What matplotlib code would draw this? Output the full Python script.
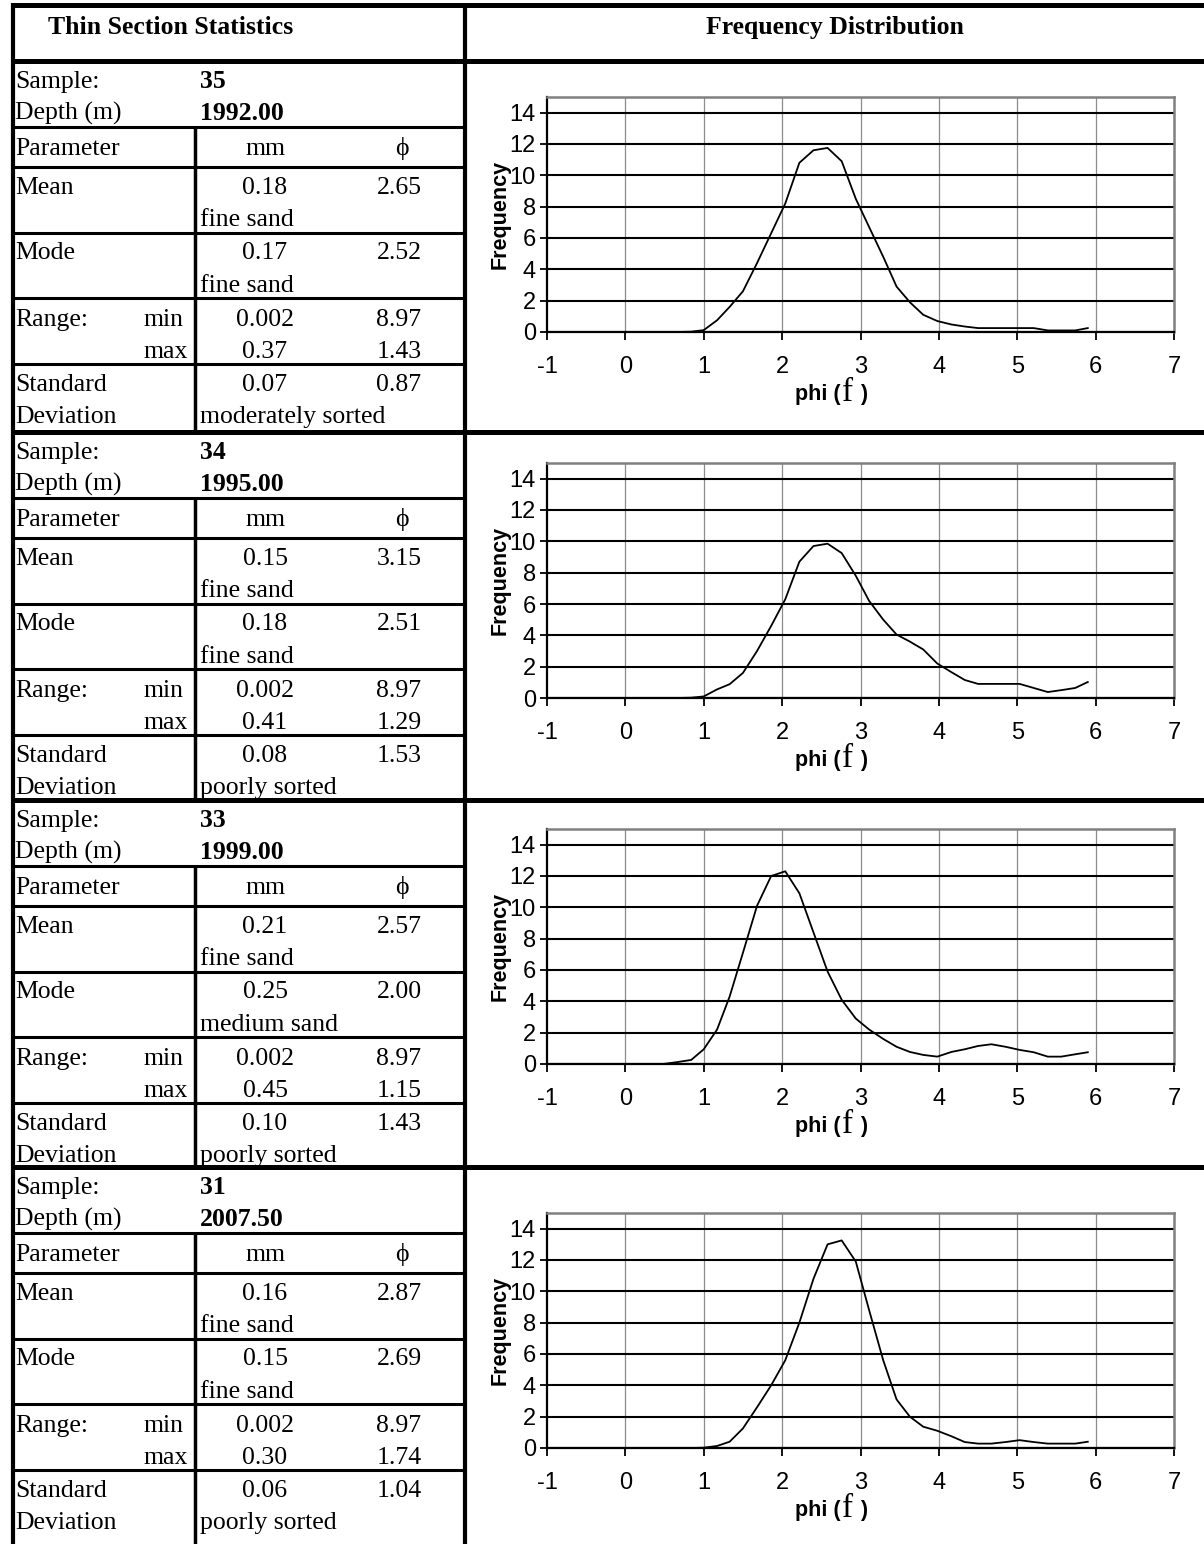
import matplotlib
matplotlib.use("Agg")
import matplotlib.pyplot as plt
from matplotlib.lines import Line2D

plt.rcParams["axes.unicode_minus"] = False

# phi class midpoints shared by all samples
phi = [0.48, 0.66, 0.84, 1.00, 1.17, 1.33, 1.50, 1.68, 1.86, 2.04, 2.22, 2.40,
       2.58, 2.76, 2.94, 3.11, 3.29, 3.46, 3.63, 3.80, 3.98, 4.16, 4.33, 4.50,
       4.67, 4.85, 5.03, 5.21, 5.39, 5.56, 5.74, 5.90]

freq_35 = [0, 0, 0.02, 0.12, 0.75, 1.6, 2.6, 4.4, 6.3, 8.2, 10.8, 11.6,
           11.75, 10.9, 8.5, 6.7, 4.8, 2.9, 1.9, 1.1, 0.7, 0.48, 0.35, 0.25,
           0.25, 0.25, 0.25, 0.25, 0.1, 0.1, 0.1, 0.25]
freq_34 = [0, 0, 0.02, 0.1, 0.55, 0.88, 1.6, 3.0, 4.6, 6.3, 8.7, 9.7,
           9.85, 9.25, 7.8, 6.2, 5.0, 4.05, 3.6, 3.1, 2.2, 1.65, 1.15, 0.9,
           0.9, 0.9, 0.9, 0.64, 0.38, 0.5, 0.64, 1.02]
freq_33 = [0, 0.12, 0.26, 0.94, 2.2, 4.3, 7.1, 10.1, 12.0, 12.3, 10.9, 8.4,
           5.9, 4.1, 2.9, 2.2, 1.6, 1.1, 0.77, 0.58, 0.47, 0.77, 0.94, 1.15,
           1.26, 1.1, 0.9, 0.75, 0.47, 0.47, 0.62, 0.75]
freq_31 = [0, 0, 0, 0.02, 0.13, 0.4, 1.25, 2.6, 4.0, 5.6, 8.0, 10.8,
           13.0, 13.25, 11.9, 8.8, 5.6, 3.1, 2.0, 1.36, 1.1, 0.75, 0.38, 0.28,
           0.28, 0.38, 0.5, 0.38, 0.28, 0.28, 0.28, 0.4]

samples = ["35", "34", "33", "31"]
depths = ["1992.00", "1995.00", "1999.00", "2007.50"]
mean_mm = ["0.18", "0.15", "0.21", "0.16"]
mean_phi = ["2.65", "3.15", "2.57", "2.87"]
mean_class = ["fine sand", "fine sand", "fine sand", "fine sand"]
mode_mm = ["0.17", "0.18", "0.25", "0.15"]
mode_phi = ["2.52", "2.51", "2.00", "2.69"]
mode_class = ["fine sand", "fine sand", "medium sand", "fine sand"]
min_mm = ["0.002", "0.002", "0.002", "0.002"]
min_phi = ["8.97", "8.97", "8.97", "8.97"]
max_mm = ["0.37", "0.41", "0.45", "0.30"]
max_phi = ["1.43", "1.29", "1.15", "1.74"]
sd_mm = ["0.07", "0.08", "0.10", "0.06"]
sd_phi = ["0.87", "1.53", "1.43", "1.04"]
sorting = ["moderately sorted", "poorly sorted", "poorly sorted", "poorly sorted"]
freqs = [freq_35, freq_34, freq_33, freq_31]

W, H = 1204, 1544
fig = plt.figure(figsize=(W / 100, H / 100), dpi=100)

SERIF = ["Liberation Serif", "DejaVu Serif"]
SANS = ["Liberation Sans", "DejaVu Sans"]
FS = 18.5


def fx(px):
    return px / W


def fy(py):
    return 1 - py / H


def line(x0, y0, x1, y1, lw):
    fig.add_artist(Line2D([fx(x0), fx(x1)], [fy(y0), fy(y1)], lw=lw,
                          color="black", transform=fig.transFigure,
                          solid_capstyle="butt"))


def txt(x, y, s, ha="left", bold=False):
    fig.text(fx(x), fy(y), s, ha=ha, va="baseline", fontsize=FS,
             family=SERIF, weight="bold" if bold else "normal")


# outer frame and header
line(11, 4.5, W, 4.5, 3.6)
line(11, 60.5, W, 60.5, 3.6)
line(12.5, 3, 12.5, H, 3.0)
line(465, 3, 465, H, 3.0)
txt(48, 34, "Thin Section Statistics", bold=True)
txt(835, 34, "Frequency Distribution", ha="center", bold=True)

block_tops = [61, 432, 800, 1167]
zero_y = [332, 698, 1064, 1448]
MMX, PHX = 265, 399

for i, top in enumerate(block_tops):
    bottom = block_tops[i + 1] if i < 3 else H
    # table rules
    if i < 3:
        line(11, bottom, W, bottom, 3.6)
    for off in [66, 106, 172, 237, 303]:
        line(12.5, top + off, 465, top + off, 2.2)
    line(195, top + 66, 195, bottom, 2.5)

    b = [27, 59, 94, 133, 165, 198, 231, 265, 297, 330, 362]
    txt(15, top + b[0], "Sample:")
    txt(200, top + b[0], samples[i], bold=True)
    txt(15, top + b[1], "Depth (m)")
    txt(200, top + b[1], depths[i], bold=True)
    txt(15, top + b[2], "Parameter")
    txt(MMX, top + b[2], "mm", ha="center")
    txt(402, top + b[2], "\u03d5", ha="center")
    txt(15, top + b[3], "Mean")
    txt(MMX, top + b[3], mean_mm[i], ha="center")
    txt(PHX, top + b[3], mean_phi[i], ha="center")
    txt(200, top + b[4], mean_class[i])
    txt(15, top + b[5], "Mode")
    txt(MMX, top + b[5], mode_mm[i], ha="center")
    txt(PHX, top + b[5], mode_phi[i], ha="center")
    txt(200, top + b[6], mode_class[i])
    txt(15, top + b[7], "Range:")
    txt(143, top + b[7], "min")
    txt(MMX, top + b[7], min_mm[i], ha="center")
    txt(PHX, top + b[7], min_phi[i], ha="center")
    txt(143, top + b[8], "max")
    txt(MMX, top + b[8], max_mm[i], ha="center")
    txt(PHX, top + b[8], max_phi[i], ha="center")
    txt(15, top + b[9], "Standard")
    txt(MMX, top + b[9], sd_mm[i], ha="center")
    txt(PHX, top + b[9], sd_phi[i], ha="center")
    txt(15, top + b[10], "Deviation")
    txt(200, top + b[10], sorting[i])

    # chart
    y0 = zero_y[i]
    ax = fig.add_axes([fx(547), fy(y0), (1174 - 547) / W, 235 / H])
    ax.plot(phi, freqs[i], color="black", lw=1.3, zorder=5)
    ax.set_xlim(-1, 7)
    ax.set_ylim(0, 15)
    ax.set_xticks(range(-1, 8))
    ax.set_yticks(range(0, 15, 2))
    for y in range(0, 15, 2):
        ax.axhline(y, color="black", lw=1.5, zorder=2)
    for x in range(0, 7):
        ax.axvline(x, color="#8c8c8c", lw=0.9, zorder=1)
    for s in ["top", "right"]:
        ax.spines[s].set_color("#808080")
        ax.spines[s].set_linewidth(1.8)
    ax.spines["left"].set_linewidth(1.6)
    ax.spines["bottom"].set_linewidth(1.6)
    ax.tick_params(axis="y", direction="out", length=5, width=1.3, pad=3,
                   labelsize=17)
    ax.tick_params(axis="x", direction="out", length=6, width=1.3, pad=11,
                   labelsize=17)
    for lab in ax.get_xticklabels() + ax.get_yticklabels():
        lab.set_family(SANS)
    ax.text(-0.075, 0.5, "Frequency", transform=ax.transAxes, rotation=90,
            ha="center", va="center", fontsize=15.5, weight="bold",
            family=SANS)
    ax.annotate("phi (", xy=(0.48, -0.265), xycoords="axes fraction",
                xytext=(-7, 0), textcoords="offset pixels", ha="right",
                va="center", fontsize=15.5, weight="bold", family=SANS)
    ax.annotate("f", xy=(0.48, -0.265), xycoords="axes fraction",
                xytext=(0, 2), textcoords="offset pixels", ha="center",
                va="center", fontsize=24, family=SERIF)
    ax.annotate(")", xy=(0.48, -0.265), xycoords="axes fraction",
                xytext=(12, 0), textcoords="offset pixels", ha="left",
                va="center", fontsize=15.5, weight="bold", family=SANS)

fig.savefig("out.png", dpi=100)
